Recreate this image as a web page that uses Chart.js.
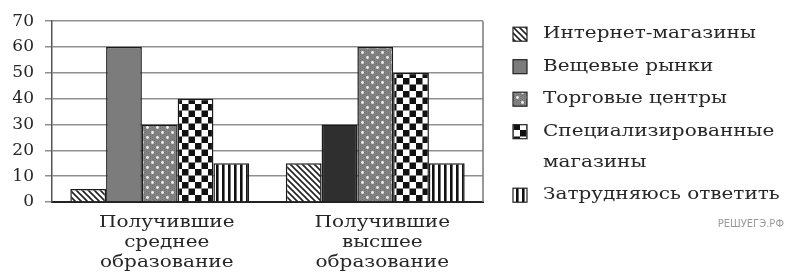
<!DOCTYPE html>
<html>
<head>
<meta charset="utf-8">
<script src="https://cdn.jsdelivr.net/npm/chart.js@4"></script>
<style>
  html, body { margin: 0; padding: 0; background: #fff; }
  #wrap { width: 788px; height: 272px; }
</style>
</head>
<body>
<div id="wrap"><canvas id="chart" width="788" height="272"></canvas></div>
<script>
// данные с диаграммы
const groups = [
    ['Получившие', 'среднее', 'образование'],
    ['Получившие', 'высшее', 'образование']
];
const seriesNames = [
    ['Интернет-магазины'],
    ['Вещевые рынки'],
    ['Торговые центры'],
    ['Специализированные', 'магазины'],
    ['Затрудняюсь ответить']
];
const internetShops = [5, 15];
const clothesMarkets = [60, 30];
const malls = [30, 60];
const specialShops = [40, 50];
const noAnswer = [15, 15];
const yTicks = [0, 10, 20, 30, 40, 50, 60, 70];

const FONT = '"DejaVu Serif", "Liberation Serif", serif';
const TEXT_COLOR = '#262626';
const STRETCH = 1.25; // шрифт в оригинале растянут по ширине

// --- узоры заливки ---
function makeTile(w, h, draw) {
    const c = document.createElement('canvas');
    c.width = w; c.height = h;
    const g = c.getContext('2d');
    draw(g, w, h);
    return document.getElementById('chart').getContext('2d').createPattern(c, 'repeat');
}

const hatch = makeTile(6, 6, (g, w, h) => {
    g.fillStyle = '#fff'; g.fillRect(0, 0, w, h);
    g.strokeStyle = '#222'; g.lineWidth = 1.6;
    g.beginPath();
    g.moveTo(-1, -1); g.lineTo(w + 1, h + 1);
    g.moveTo(-1 - w, -1); g.lineTo(1, h + 1);
    g.moveTo(w - 1, -1); g.lineTo(2 * w + 1, h + 1);
    g.stroke();
});

const dots = makeTile(10, 10, (g, w, h) => {
    g.fillStyle = '#858585'; g.fillRect(0, 0, w, h);
    g.fillStyle = '#6f6f6f';
    for (let i = 0; i < w; i += 2) for (let j = (i / 2) % 2; j < h; j += 2) g.fillRect(i, j, 1, 1);
    g.fillStyle = '#f2f2f2';
    g.beginPath(); g.arc(2.5, 2.5, 1.4, 0, Math.PI * 2); g.fill();
    g.beginPath(); g.arc(7.5, 7.5, 1.4, 0, Math.PI * 2); g.fill();
});

const checker = makeTile(13, 13, (g, w, h) => {
    g.fillStyle = '#fff'; g.fillRect(0, 0, w, h);
    g.fillStyle = '#111';
    g.fillRect(0, 0, 6.5, 6.5);
    g.fillRect(6.5, 6.5, 6.5, 6.5);
});

const stripes = makeTile(6, 4, (g, w, h) => {
    g.fillStyle = '#fff'; g.fillRect(0, 0, w, h);
    g.fillStyle = '#111'; g.fillRect(0, 0, 2.6, h);
});

const grayFill = '#7c7c7c';
const darkFill = '#2f2f2f';

// растянутый по ширине текст
function wideText(ctx, text, x, y, align) {
    ctx.save();
    ctx.translate(x, y);
    ctx.scale(STRETCH, 1);
    ctx.textAlign = align || 'left';
    ctx.fillText(text, 0, 0);
    ctx.restore();
}

// --- подписи категорий под осью X ---
const groupLabels = {
    id: 'groupLabels',
    afterDraw(chart) {
        const ctx = chart.ctx;
        const xs = chart.scales.x;
        ctx.save();
        ctx.font = '16px ' + FONT;
        ctx.fillStyle = TEXT_COLOR;
        ctx.textBaseline = 'middle';
        chart.data.labels.forEach((lines, i) => {
            const cx = xs.getPixelForTick(i) + 7;
            lines.forEach((line, k) => {
                wideText(ctx, line, cx, xs.bottom - 49 + k * 20, 'center');
            });
        });
        ctx.restore();
    }
};

// --- легенда справа и подпись ---
const sideLegend = {
    id: 'sideLegend',
    afterDraw(chart) {
        const ctx = chart.ctx;
        const area = chart.chartArea;
        const x0 = area.right + 30;
        let y = area.top + 13;
        ctx.save();
        ctx.font = '16px ' + FONT;
        ctx.textBaseline = 'middle';
        chart.data.datasets.forEach(ds => {
            ctx.fillStyle = ds.legendFill;
            ctx.fillRect(x0, y - 7, 14, 14);
            ctx.strokeStyle = '#222';
            ctx.lineWidth = 1.2;
            ctx.strokeRect(x0, y - 7, 14, 14);
            ctx.fillStyle = TEXT_COLOR;
            ds.label.forEach((line, i) => {
                wideText(ctx, line, x0 + 30, y + i * 31);
            });
            y += 32.5 + (ds.label.length - 1) * 31;
        });
        ctx.font = '10px "DejaVu Sans", sans-serif';
        ctx.fillStyle = '#9a9a9a';
        ctx.textAlign = 'right';
        ctx.fillText('РЕШУЕГЭ.РФ', chart.width - 4, y - 3);
        ctx.restore();
    }
};

// рамка справа
const rightFrame = {
    id: 'rightFrame',
    afterDatasetsDraw(chart) {
        const ctx = chart.ctx;
        const a = chart.chartArea;
        ctx.save();
        ctx.strokeStyle = '#777';
        ctx.lineWidth = 1.5;
        ctx.beginPath();
        ctx.moveTo(a.right, a.top);
        ctx.lineTo(a.right, a.bottom);
        ctx.stroke();
        ctx.restore();
    }
};

const mkSet = (i, data, fills, legendFill) => ({
    label: seriesNames[i],
    data: data,
    backgroundColor: fills,
    legendFill: legendFill,
    borderColor: '#1a1a1a',
    borderWidth: 1.5,
    borderSkipped: 'bottom',
    barPercentage: 1,
    categoryPercentage: 0.83
});

new Chart(document.getElementById('chart'), {
    type: 'bar',
    data: {
        labels: groups,
        datasets: [
            mkSet(0, internetShops, hatch, hatch),
            mkSet(1, clothesMarkets, [grayFill, darkFill], grayFill),
            mkSet(2, malls, dots, dots),
            mkSet(3, specialShops, checker, checker),
            mkSet(4, noAnswer, stripes, stripes)
        ]
    },
    options: {
        responsive: false,
        animation: false,
        layout: { padding: { top: 20, right: 305, left: 0, bottom: 0 } },
        plugins: {
            legend: { display: false },
            tooltip: { enabled: false }
        },
        scales: {
            x: {
                grid: { display: false },
                border: { display: true, color: '#222', width: 2 },
                ticks: { display: false },
                afterFit: (s) => { s.height = 70; }
            },
            y: {
                min: 0,
                max: 70,
                afterBuildTicks: (s) => { s.ticks = yTicks.map(v => ({ value: v })); },
                grid: { color: '#8f8f8f', lineWidth: 1.5, tickLength: 7 },
                border: { display: true, color: '#555', width: 1.5 },
                ticks: {
                    font: { family: FONT, size: 17 },
                    color: TEXT_COLOR,
                    padding: 11
                },
                afterFit: (s) => { s.width = 52; }
            }
        }
    },
    plugins: [rightFrame, groupLabels, sideLegend]
});
</script>
</body>
</html>
